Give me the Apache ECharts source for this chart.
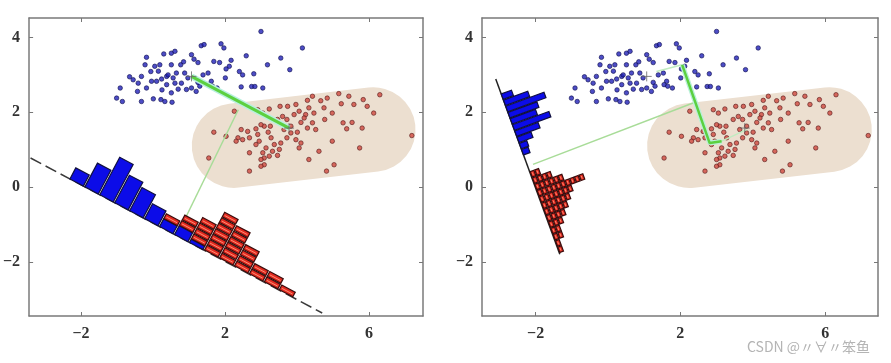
<!DOCTYPE html>
<html><head><meta charset="utf-8">
<script src="https://cdn.jsdelivr.net/npm/echarts@6/dist/echarts.min.js"></script>
<style>html,body{margin:0;padding:0;background:#fff}#c{width:891px;height:363px}</style>
</head><body><div id="c"></div>
<script>
// ---------- data ----------
const xTicks = [-2, 2, 6];
const yTicks = [-2, 0, 2, 4];

const bluePts = [[3.00,4.16],[4.15,3.72],[3.80,3.14],[3.55,3.45],[3.18,3.27],[2.59,3.51],[2.17,3.39],[1.89,3.83],[1.97,3.72],[1.34,3.78],[1.42,3.81],[1.07,3.54],[1.14,3.42],[1.25,3.33],[1.69,3.36],[1.85,3.33],[2.12,3.23],[2.03,3.16],[2.40,3.09],[2.49,3.00],[2.80,3.03],[2.01,2.92],[2.45,2.68],[2.74,2.69],[2.83,2.69],[3.05,2.65],[0.51,3.58],[0.61,3.63],[0.30,3.56],[-0.18,3.47],[-0.22,3.27],[0.05,3.23],[0.19,3.27],[0.51,3.27],[0.77,3.27],[-0.06,3.09],[-0.32,2.96],[-0.55,2.87],[-0.41,2.78],[-0.04,2.83],[0.10,2.83],[0.24,2.89],[0.38,2.96],[0.42,3.00],[0.56,2.92],[0.65,3.05],[0.88,3.05],[0.97,2.92],[0.79,2.78],[0.61,2.78],[0.38,2.74],[-0.18,2.65],[-0.43,2.56],[0.51,2.52],[0.70,2.62],[0.93,2.61],[1.07,2.65],[1.25,2.80],[1.39,3.00],[1.53,3.05],[1.62,2.83],[1.55,2.74],[1.78,2.65],[1.20,2.56],[-0.91,2.65],[-1.01,2.38],[-0.85,2.29],[-0.32,2.29],[0.01,2.36],[0.22,2.34],[0.33,2.29],[0.53,2.27],[1.65,2.70],[0.15,3.10],[0.85,3.35],[1.30,2.70],[0.25,2.60],[-0.65,2.95]];

const redPts = [[6.30,2.47],[7.19,1.38],[5.16,2.50],[5.44,2.43],[5.84,2.34],[5.95,2.16],[6.13,1.98],[5.58,2.21],[5.23,2.23],[4.84,2.38],[4.43,2.43],[4.75,2.12],[4.98,1.98],[5.28,1.72],[5.53,1.73],[5.38,1.56],[5.81,1.58],[5.74,1.05],[4.98,1.23],[4.61,0.96],[5.03,0.60],[4.82,0.43],[4.33,0.74],[4.52,1.54],[4.29,1.58],[4.47,1.98],[4.24,1.94],[4.33,2.12],[4.20,1.85],[3.97,2.21],[4.06,2.03],[3.92,1.94],[3.74,2.16],[3.53,2.16],[3.60,1.89],[3.46,1.81],[3.83,1.63],[3.64,1.54],[3.83,1.45],[4.01,1.47],[3.97,1.27],[4.11,1.18],[4.06,1.05],[3.72,1.32],[3.55,1.18],[3.51,1.01],[3.37,1.14],[3.32,0.96],[3.23,0.83],[3.09,0.78],[3.00,0.74],[3.05,0.92],[3.14,1.05],[3.46,0.85],[3.09,0.60],[2.68,0.43],[3.28,1.32],[3.20,1.47],[3.26,1.63],[3.09,1.63],[3.00,1.67],[2.86,1.56],[2.63,1.49],[2.68,1.32],[2.49,1.27],[2.45,1.54],[2.36,1.32],[2.31,1.23],[2.91,1.41],[2.95,1.23],[2.86,1.14],[2.68,0.92],[3.00,0.56],[2.03,1.36],[1.69,1.47],[1.55,0.78],[2.26,2.03],[2.91,2.07],[3.05,1.98],[3.23,2.09],[4.29,2.32],[4.66,2.31],[4.77,1.81],[4.11,1.73],[4.43,1.72],[3.72,1.81]];

const means = [[1.07, 2.96], [3.78, 1.58]];
const capsuleEnds = [[2.25, 1.11], [6.12, 1.54]];
const capsuleRadius = 1.15;

// left panel (projection onto line joining the means)
const leftProjLine = [[-3.40, 0.78], [4.70, -3.36]];
const leftBinX = [-2.12,-1.705,-1.29,-0.875,-0.46,-0.045,0.37,0.785,1.20,1.615,2.03,2.445,2.86,3.275,3.69];
const leftBlue = [2,4.3,6.8,5,4.2,2.7,1.4,1.6,0.6,0,0,0,0,0,0];
const leftRed  = [0,0,0,0,0,0,1,2,4,7,6,4,2,2,1];
const leftBinStep = 0.415;
const leftUnit = 0.17;
const leftMeanLine = [[1.07, 2.96], [3.78, 1.58]];
const leftPerpLine = [[0.93, -0.77], [2.37, 2.07]];

// right panel (Fisher projection)
const rightProjLine = [[-3.10, 2.89], [-1.33, -1.79]];
const rightBlueY = [2.42,2.255,2.09,1.925,1.76,1.595,1.43,1.265,1.10,0.935];
const rightBlue  = [2.2,5.2,8.2,6.2,5.4,7.8,5,3,1.6,1.4];
const rightRedY  = [0.339,0.171,0.003,-0.165,-0.333,-0.501,-0.669,-0.837,-1.005,-1.173,-1.341,-1.509,-1.677];
const rightRed   = [2,4,6,10,7,6,5,4,3,2,2,1,1];
const rightBinStep = 0.165;
const rightUnit = 0.135;
const rightFisherPath = [[2.05, 3.27], [2.81, 1.18], [3.14, 1.23]];
const rightFaint1 = [[1.34, 3.09], [2.05, 3.27]];
const rightFaint2 = [[3.14, 1.23], [3.83, 1.54]];
const rightPerpLine = [[-2.07, 0.61], [2.35, 2.25]];

// ---------- helpers ----------
const lineYAt = (ln, x) => ln[0][1] + (x - ln[0][0]) * (ln[1][1] - ln[0][1]) / (ln[1][0] - ln[0][0]);
const lineXAt = (ln, y) => ln[0][0] + (y - ln[0][1]) * (ln[1][0] - ln[0][0]) / (ln[1][1] - ln[0][1]);

function histSeries(ai, line, param, positions, counts, bases, step, unit, fill, stroke, segmented, z, frac) {
  const data = positions.map((p, i) => [p, bases[i], counts[i]]).filter(d => d[2] > 0);
  return {
    type: 'custom', xAxisIndex: ai, yAxisIndex: ai, z: z, silent: true, clip: true,
    data: data,
    renderItem: function (params, api) {
      const pos = api.value(0), base = api.value(1), cnt = api.value(2);
      const onLine = v => param === 'x' ? [v, lineYAt(line, v)] : [lineXAt(line, v), v];
      const A = api.coord(line[0]), B = api.coord(line[1]);
      let ux = B[0] - A[0], uy = B[1] - A[1];
      const L = Math.hypot(ux, uy); ux /= L; uy /= L;
      const nx = uy, ny = -ux;
      const P = api.coord(onLine(pos)), Q = api.coord(onLine(pos + step));
      const w = Math.hypot(Q[0] - P[0], Q[1] - P[1]) * frac;
      const s = api.size([1, 1]);
      const h = unit * (s[0] + s[1]) / 2;
      const pt = (t, d) => [P[0] + t * ux + d * nx, P[1] + t * uy + d * ny];
      const children = [];
      const rect = (a, b) => {
        children.push({ type: 'polygon', shape: { points: [pt(-w/2, a), pt(w/2, a), pt(w/2, b), pt(-w/2, b)] },
          style: { fill: fill, stroke: stroke, lineWidth: 1.2 } });
      };
      if (segmented) {
        for (let i = 0; i < cnt; i++) {
          const a = (base + i) * h + 0.5, b = (base + i + 1) * h - 0.5;
          rect(a, b);
          const m = a + (b - a) * 0.45;
          const p1 = pt(-w/2 + 1.5, m), p2 = pt(w/2 - 1.5, m);
          children.push({ type: 'line', shape: { x1: p1[0], y1: p1[1], x2: p2[0], y2: p2[1] },
            style: { stroke: 'rgba(255,160,130,0.85)', lineWidth: 1 } });
        }
      } else {
        rect(base * h, (base + cnt) * h);
      }
      return { type: 'group', children: children };
    }
  };
}

function capsuleSeries(ai) {
  return {
    type: 'custom', xAxisIndex: ai, yAxisIndex: ai, z: 1, silent: true,
    data: [[capsuleEnds[0][0], capsuleEnds[0][1], capsuleEnds[1][0], capsuleEnds[1][1], capsuleRadius]],
    renderItem: function (params, api) {
      const a = api.coord([api.value(0), api.value(1)]);
      const b = api.coord([api.value(2), api.value(3)]);
      const s = api.size([api.value(4), api.value(4)]);
      const r = (s[0] + s[1]) / 2;
      return { type: 'polyline', shape: { points: [a, b] },
        style: { stroke: '#ecdfd0', lineWidth: 2 * r, lineCap: 'round', fill: null } };
    }
  };
}

function lineSeries(ai, pts, color, width, z, type) {
  return { type: 'line', xAxisIndex: ai, yAxisIndex: ai, data: pts, showSymbol: false, symbol: 'none', silent: true,
    z: z, lineStyle: { color: color, width: width, type: type || 'solid', cap: 'butt' } };
}

function scatterSeries(ai, pts, color, border) {
  return { type: 'scatter', xAxisIndex: ai, yAxisIndex: ai, data: pts, symbolSize: 4.5, z: 3, silent: true,
    itemStyle: { color: color, borderColor: border, borderWidth: 0.8 } };
}

function crossSeries(ai) {
  return { type: 'scatter', xAxisIndex: ai, yAxisIndex: ai, data: means, z: 9, silent: true,
    symbol: 'path://M5,0L5,10M0,5L10,5', symbolSize: 10,
    itemStyle: { color: 'rgba(0,0,0,0)', borderColor: '#666', borderWidth: 1 } };
}

const fmt = v => String(v).replace('-', '\u2212');
const labelStyle = { fontFamily: '"Liberation Serif", "DejaVu Serif", serif', fontSize: 16, fontWeight: 'bold', color: '#333' };
const frameLine = { show: true, onZero: false, lineStyle: { color: '#7a7a7a', width: 1.5 } };

function xAxes(gi, min, max) {
  return [
    { type: 'value', gridIndex: gi, min: min, max: max, position: 'bottom', axisLine: frameLine,
      axisTick: { show: true, inside: true, length: 4, customValues: xTicks, lineStyle: { color: '#777' } },
      axisLabel: Object.assign({ customValues: xTicks, formatter: fmt, margin: 10 }, labelStyle),
      splitLine: { show: false } },
    { type: 'value', gridIndex: gi, min: min, max: max, position: 'top', axisLine: frameLine,
      axisTick: { show: true, inside: true, length: 4, customValues: xTicks, lineStyle: { color: '#777' } },
      axisLabel: { show: false }, splitLine: { show: false } }
  ];
}
function yAxes(gi, min, max) {
  return [
    { type: 'value', gridIndex: gi, min: min, max: max, position: 'left', axisLine: frameLine,
      axisTick: { show: true, inside: true, length: 4, customValues: yTicks, lineStyle: { color: '#777' } },
      axisLabel: Object.assign({ customValues: yTicks, formatter: fmt, margin: 9 }, labelStyle),
      splitLine: { show: false } },
    { type: 'value', gridIndex: gi, min: min, max: max, position: 'right', axisLine: frameLine,
      axisTick: { show: true, inside: true, length: 4, customValues: yTicks, lineStyle: { color: '#777' } },
      axisLabel: { show: false }, splitLine: { show: false } }
  ];
}

const chart = echarts.init(document.getElementById('c'), null, { renderer: 'canvas' });
const xa = [...xAxes(0, -3.44, 7.50), ...xAxes(1, -3.48, 7.46)];
const ya = [...yAxes(0, -3.44, 4.52), ...yAxes(1, -3.44, 4.52)];
const series = [];
[0, 2].forEach(ai => {
  series.push(capsuleSeries(ai));
  series.push(scatterSeries(ai, bluePts, '#2020b8', '#101050'));
  series.push(scatterSeries(ai, redPts, '#d0483e', '#5a1c1c'));
});
// left panel
series.push(lineSeries(0, leftPerpLine, '#a8dc98', 1.5, 4));
series.push(lineSeries(0, leftMeanLine, '#b8f0e0', 6, 4));
series.push(lineSeries(0, leftMeanLine, '#5cd040', 3, 5));
series.push(lineSeries(0, leftProjLine, '#3a3a3a', 1.5, 4, [12, 5]));
series.push(histSeries(0, leftProjLine, 'x', leftBinX, leftBlue, leftBinX.map(() => 0), leftBinStep, leftUnit, '#0c0ce8', '#101040', false, 6, 0.9));
series.push(histSeries(0, leftProjLine, 'x', leftBinX, leftRed, leftBlue, leftBinStep, leftUnit, '#e42a20', '#3a0c0c', true, 7, 0.9));
series.push(crossSeries(0));
// right panel
series.push(lineSeries(2, rightPerpLine, '#a8dc98', 1.5, 4));
series.push(lineSeries(2, rightFaint1, '#c0ecc0', 1.5, 4));
series.push(lineSeries(2, rightFaint2, '#c0ecc0', 1.5, 4));
series.push(lineSeries(2, rightFisherPath, '#b8f0d8', 5, 4));
series.push(lineSeries(2, rightFisherPath, '#5cd040', 2.5, 5));
series.push(lineSeries(2, rightProjLine, '#222', 1.5, 4));
series.push(histSeries(2, rightProjLine, 'y', rightBlueY, rightBlue, rightBlueY.map(() => 0), rightBinStep, rightUnit, '#0c0ce8', '#101040', false, 6, 0.88));
series.push(histSeries(2, rightProjLine, 'y', rightRedY, rightRed, rightRedY.map(() => 0), rightBinStep, rightUnit, '#e42a20', '#3a0c0c', true, 7, 0.88));
series.push(crossSeries(2));

chart.setOption({
  animation: false,
  backgroundColor: '#ffffff',
  grid: [
    { left: 27, top: 18, width: 396, height: 298 },
    { left: 482, top: 18, width: 396, height: 298 }
  ],
  xAxis: xa,
  yAxis: ya,
  series: series,
  graphic: [{ type: 'text', left: 747, top: 340, silent: true,
    style: { text: 'CSDN @〃∀〃笨鱼', fontFamily: 'Noto Sans CJK SC', fontSize: 14, fill: '#b4b4b4' } }]
});
</script>
</body></html>
